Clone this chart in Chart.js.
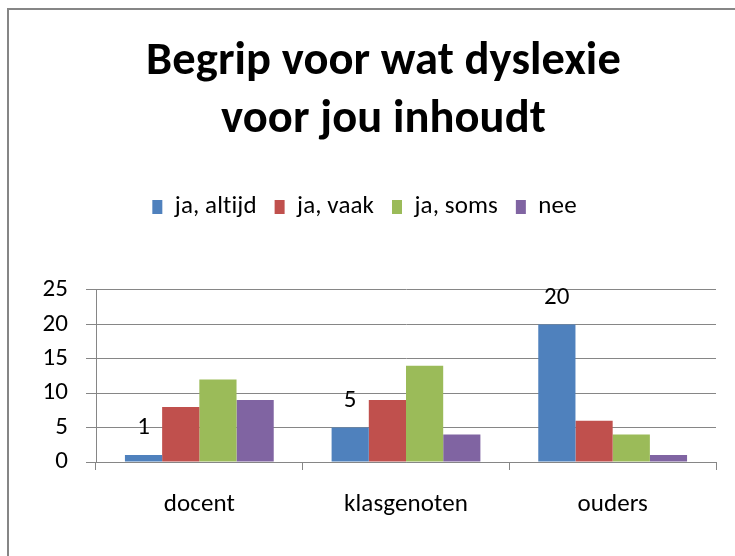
<!DOCTYPE html>
<html>
<head>
<meta charset="utf-8">
<script src="https://cdn.jsdelivr.net/npm/chart.js@4/dist/chart.umd.min.js"></script>
<style>
  html, body { margin: 0; padding: 0; background: #ffffff; }
  #wrap { width: 735px; height: 556px; }
</style>
</head>
<body>
<div id="wrap"><canvas id="c" width="735" height="556"></canvas></div>
<script>
const titleLines = ['Begrip voor wat dyslexie', 'voor jou inhoudt'];
const categories = ['docent', 'klasgenoten', 'ouders'];
const seriesNames = ['ja, altijd', 'ja, vaak', 'ja, soms', 'nee'];
const jaAltijd = [1, 5, 20];
const jaVaak = [8, 9, 6];
const jaSoms = [12, 14, 4];
const nee = [9, 4, 1];
const yTicks = [0, 5, 10, 15, 20, 25];
const seriesColors = ['#4F81BD', '#C0504D', '#9BBB59', '#8064A2'];

const FONT = "Carlito, Calibri, Lato, sans-serif";
const GRID = '#868686';

function noLigatures(ctx) {
  try { ctx.textRendering = 'optimizeSpeed'; } catch (e) {}
  try { ctx.letterSpacing = '0.1px'; } catch (e) {}
}

const frame = {
  id: 'frame',
  beforeLayout(chart) { noLigatures(chart.ctx); },
  beforeDraw(chart) {
    const ctx = chart.ctx;
    noLigatures(ctx);
    ctx.save();
    ctx.fillStyle = '#ffffff';
    ctx.fillRect(0, 0, chart.width, chart.height);
    ctx.fillStyle = GRID;
    ctx.fillRect(7, 8, 2, chart.height - 8);
    ctx.fillRect(7, 8, chart.width - 7, 2);
    ctx.restore();
  },
  afterLayout(chart) {
    const t = chart.titleBlock;
    if (t) { t.left += 19; t.right += 19; }
  }
};

const valueLabels = {
  id: 'valueLabels',
  afterDatasetsDraw(chart) {
    const ctx = chart.ctx;
    const meta = chart.getDatasetMeta(0);
    ctx.save();
    ctx.font = '25px ' + FONT;
    ctx.fillStyle = '#000000';
    ctx.textAlign = 'center';
    ctx.textBaseline = 'middle';
    meta.data.forEach((bar, i) => {
      ctx.fillText(String(jaAltijd[i]), bar.x, bar.y - 27);
    });
    ctx.restore();
  }
};

new Chart(document.getElementById('c'), {
  type: 'bar',
  data: {
    labels: categories,
    datasets: [jaAltijd, jaVaak, jaSoms, nee].map((d, i) => ({
      label: seriesNames[i],
      data: d,
      backgroundColor: seriesColors[i],
      borderWidth: 0,
      categoryPercentage: 0.72,
      barPercentage: 1.0
    }))
  },
  options: {
    responsive: false,
    animation: false,
    layout: { padding: { left: 13, right: 19, top: 0, bottom: 0 } },
    plugins: {
      title: {
        display: true,
        text: titleLines,
        color: '#000000',
        font: { family: FONT, size: 46.5, weight: 'bold', lineHeight: 1.247 },
        padding: { top: 33, bottom: 27.5 }
      },
      legend: {
        display: true,
        position: 'top',
        labels: {
          color: '#000000',
          font: { family: FONT, size: 25 },
          boxWidth: 10,
          boxHeight: 14,
          padding: 18
        }
      },
      subtitle: {
        display: true,
        text: '',
        weight: 500,
        font: { size: 1, lineHeight: 1 },
        padding: { top: 59.5, bottom: 0 }
      },
      tooltip: { enabled: false }
    },
    scales: {
      x: {
        grid: {
          display: true,
          drawOnChartArea: false,
          drawTicks: true,
          tickLength: 8,
          color: GRID,
          offset: true
        },
        border: { display: true, color: GRID, width: 1 },
        ticks: {
          color: '#000000',
          font: { family: FONT, size: 25 },
          padding: 20
        },
        afterFit(scale) { scale.height = 94; }
      },
      y: {
        min: 0,
        max: 25,
        afterBuildTicks(scale) { scale.ticks = yTicks.map(v => ({ value: v })); },
        grid: {
          color: GRID,
          drawTicks: true,
          tickLength: 10
        },
        border: { display: true, color: GRID, width: 1 },
        ticks: {
          color: '#000000',
          font: { family: FONT, size: 25 },
          padding: 18
        },
        afterFit(scale) { scale.width = 83; }
      }
    }
  },
  plugins: [frame, valueLabels]
});
</script>
</body>
</html>
